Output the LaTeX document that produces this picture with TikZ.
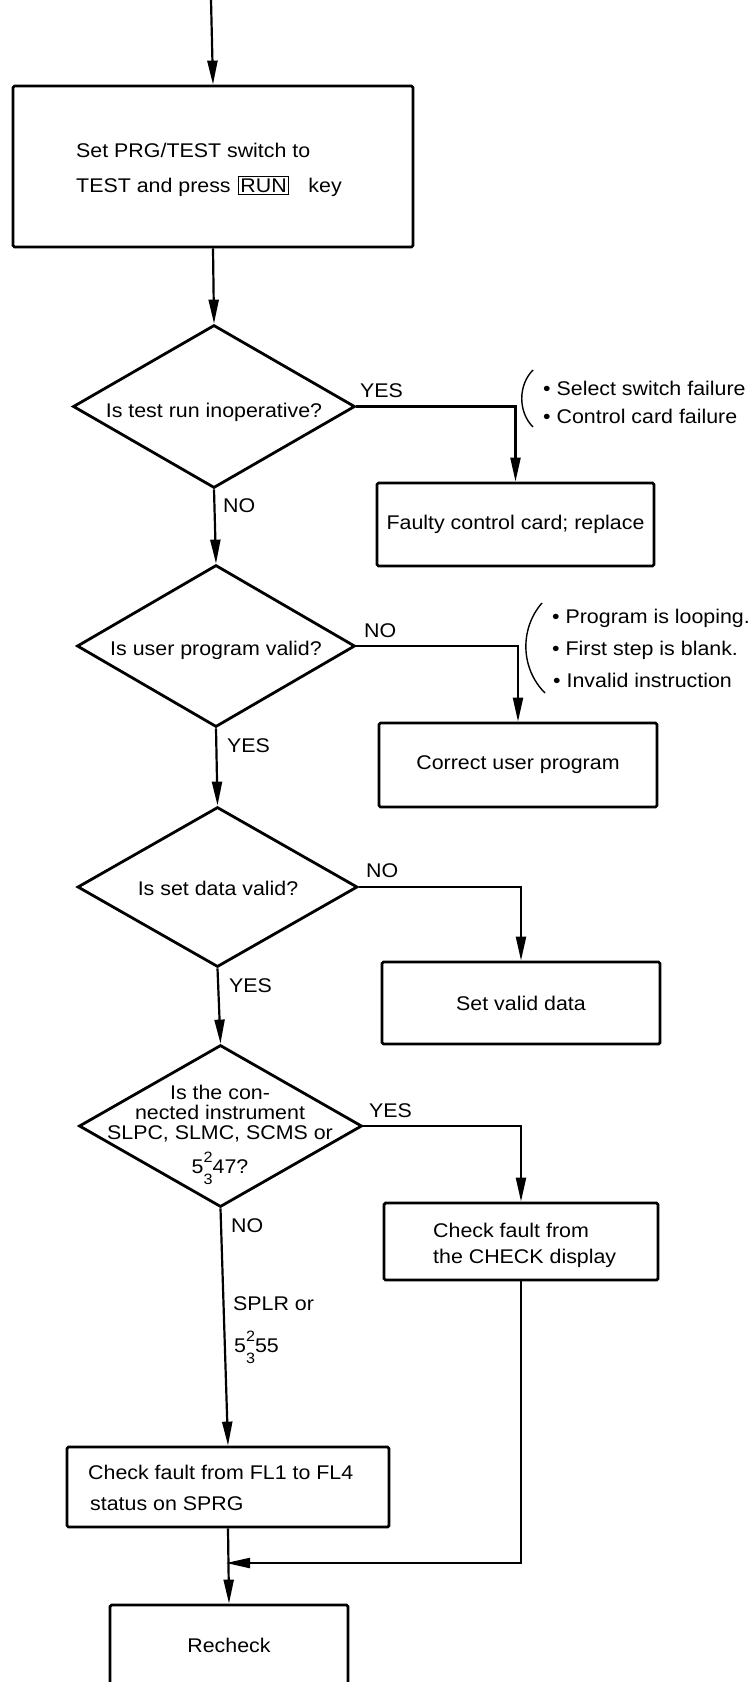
\documentclass[tikz,border=0pt]{standalone}
\usepackage{fontspec}
\setmainfont[FakeStretch=1.08]{Liberation Sans}
\usetikzlibrary{arrows.meta,shapes.geometric}
\newcommand\myfs{\fontsize{19.8}{24}\selectfont}
\newcommand\stk[2]{\makebox[0pt][l]{\raisebox{11pt}{\fontsize{15}{15}\selectfont #1}}\raisebox{-11pt}{\fontsize{15}{15}\selectfont #2}}
\setlength\fboxsep{1.5pt}
\setlength\fboxrule{1.2pt}
\begin{document}
\begin{tikzpicture}[x=1pt,y=-1pt,
  box/.style={draw, line width=2.8pt, rounded corners=1.5pt, inner sep=0pt, font=\myfs},
  dia/.style={draw, diamond, line width=2.8pt, inner sep=0pt},
  txt/.style={inner sep=0pt, font=\myfs},
  arr/.style={line width=2.2pt, -{Triangle[length=24pt,width=10pt]}},
  brk/.style={line width=1.4pt}]
\useasboundingbox (0,0) rectangle (753,1682);
\begin{scope}
\clip (0,0) rectangle (753,1682);
% nodes
\coordinate (start) at (211,0);
\node[box, minimum width=400pt, minimum height=161pt] (box1) at (213,166.5) {};
\node[dia, minimum width=282pt, minimum height=163pt] (d1) at (214,406.5) {};
\node[box, minimum width=277pt, minimum height=83pt] (box2) at (515.5,524.5) {Faulty control card; replace};
\node[dia, minimum width=278pt, minimum height=162pt] (d2) at (216,646) {};
\node[box, minimum width=278pt, minimum height=84pt] (box3) at (518,765) {Correct user program};
\node[dia, minimum width=280pt, minimum height=160pt] (d3) at (217.5,887) {};
\node[box, minimum width=278pt, minimum height=82pt] (box4) at (521,1003) {Set valid data};
\node[dia, minimum width=283pt, minimum height=162pt] (d4) at (220.5,1126) {};
\node[box, minimum width=274pt, minimum height=77pt] (box5) at (521,1241.5) {};
\node[box, minimum width=322pt, minimum height=80pt] (box6) at (228,1487) {};
\node[box, minimum width=238pt, minimum height=80pt] (box7) at (229,1645) {Recheck};
\coordinate (join) at (226,1563);

% texts
\node[txt, anchor=base west] (t1a) at (76,157) {Set PRG/TEST switch to};
\node[txt, anchor=base west] (t1b) at (76,192) {TEST and press\hspace{7pt}\fbox{RUN}\hspace{19pt}key};
\node[txt, anchor=base] (q1) at (214,417) {Is test run inoperative?};
\node[txt, anchor=base] (q2) at (216,655) {Is user program valid?};
\node[txt, anchor=base] (q3) at (218,895) {Is set data valid?};
\node[txt, anchor=base] (q4a) at (220,1099) {Is the con-};
\node[txt, anchor=base] (q4b) at (220,1119) {nected instrument};
\node[txt, anchor=base] (q4c) at (220,1139) {SLPC, SLMC, SCMS or};
\node[txt, anchor=base] (q4d) at (220,1173) {5\stk{2}{3}47?};
\node[txt, anchor=base west] (t5a) at (433,1237) {Check fault from};
\node[txt, anchor=base west] (t5b) at (433,1263) {the CHECK display};
\node[txt, anchor=base west] (t6a) at (88,1479) {Check fault from FL1 to FL4};
\node[txt, anchor=base west] (t6b) at (90,1510) {status on SPRG};

% bullet lists
\node[txt, anchor=base west] (l1a) at (543,395) {\textbullet\ Select switch failure};
\node[txt, anchor=base west] (l1b) at (543,423) {\textbullet\ Control card failure};
\node[txt, anchor=base west] (l2a) at (552,623) {\textbullet\ Program is looping.};
\node[txt, anchor=base west] (l2b) at (552,655) {\textbullet\ First step is blank.};
\node[txt, anchor=base west] (l2c) at (553,687) {\textbullet\ Invalid instruction};
\draw[brk] (533,370) .. controls (518,385) and (518,412) .. (533,427);
\draw[brk] (542,603) .. controls (520,628) and (520,668) .. (545,693);

% labels
\node[txt, anchor=base west] (y1) at (360,397) {YES};
\node[txt, anchor=base west] (n1) at (223,512) {NO};
\node[txt, anchor=base west] (n2) at (364,637) {NO};
\node[txt, anchor=base west] (y2) at (227,752) {YES};
\node[txt, anchor=base west] (n3) at (366,877) {NO};
\node[txt, anchor=base west] (y3) at (229,992) {YES};
\node[txt, anchor=base west] (y4) at (369,1117) {YES};
\node[txt, anchor=base west] (n4) at (231,1232) {NO};
\node[txt, anchor=base west] (s1) at (233,1310) {SPLR or};
\node[txt, anchor=base west] (s2) at (234,1352) {5\stk{2}{3}55};

% connectors
\draw[arr] (start) -- (box1.north);
\draw[arr] (box1.south) -- (d1.north);
\draw[arr] (d1.east) -| (box2.north);
\draw[arr] (d1.south) -- (d2.north);
\draw[arr] (d2.east) -| (box3.north);
\draw[arr] (d2.south) -- (d3.north);
\draw[arr] (d3.east) -| (box4.north);
\draw[arr] (d3.south) -- (d4.north);
\draw[arr] (d4.east) -| (box5.north);
\draw[arr] (d4.south) -- (box6.north);
\draw[arr] (box6.south) -- (box7.north);
\draw[arr] (box5.south) |- (join);
\end{scope}
\end{tikzpicture}
\end{document}
